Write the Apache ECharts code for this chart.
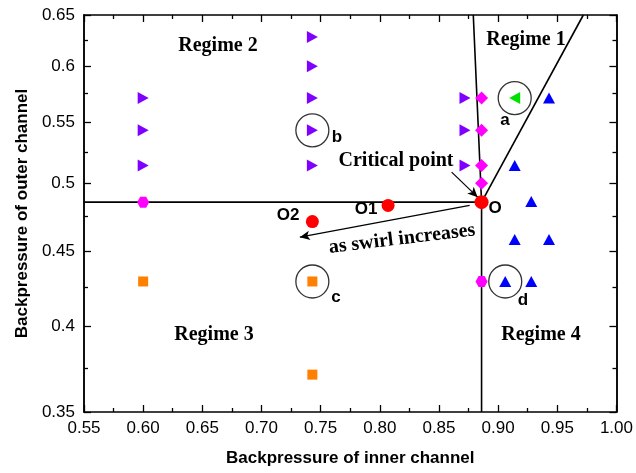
<!DOCTYPE html>
<html>
<head>
<meta charset="utf-8">
<script src="https://cdn.jsdelivr.net/npm/echarts@6/dist/echarts.min.js"></script>
<style>
html, body { margin: 0; padding: 0; background: #fff; }
#chart { width: 636px; height: 473px; }
</style>
</head>
<body>
<div id="chart"></div>
<script>
// [inner backpressure, outer backpressure]
var purpleTri = [[0.60, 0.571], [0.60, 0.543], [0.60, 0.514],
  [0.743, 0.628], [0.743, 0.600], [0.743, 0.571], [0.743, 0.543], [0.743, 0.514],
  [0.872, 0.571], [0.872, 0.543], [0.872, 0.514]];
var magentaDiamond = [[0.886, 0.571], [0.886, 0.543], [0.886, 0.514], [0.886, 0.500]];
var magentaHex = [[0.60, 0.4855], [0.886, 0.429]];
var greenTri = [[0.914, 0.571]];
var blueTri = [[0.943, 0.571], [0.914, 0.514], [0.928, 0.486], [0.914, 0.458],
  [0.943, 0.458], [0.906, 0.429], [0.928, 0.429]];
var orangeSq = [[0.60, 0.429], [0.743, 0.429], [0.743, 0.371]];
var redDots = [[0.807, 0.483], [0.743, 0.471]]; // O1, O2
var pointO = [[0.886, 0.4855]];
var circled = [[0.914, 0.571], [0.743, 0.543], [0.743, 0.429], [0.906, 0.429]]; // a b c d
var lineH = [[0.55, 0.4855], [0.886, 0.4855]];
var lineV = [[0.886, 0.35], [0.886, 0.4855], [0.879, 0.65]];
var lineD = [[0.886, 0.4855], [0.972, 0.65]];
var arrowCritical = [[0.8607, 0.5088], [0.8827, 0.4893]];
var arrowSwirl = [[0.8759, 0.483], [0.7324, 0.4597]];
var yMajor = [0.35, 0.4, 0.45, 0.5, 0.55, 0.6, 0.65];
var yMinor = [0.375, 0.425, 0.475, 0.525, 0.575, 0.625];

// outer channel axis is logarithmic
function lg(p) { return [p[0], Math.log(p[1])]; }
function pts(arr) { return arr.map(lg); }

var black = "#000";
var chart = echarts.init(document.getElementById("chart"));

function xAx(pos, label) {
  return {
    type: "value", position: pos, min: 0.55, max: 1.0, interval: 0.05,
    axisLine: { show: true, onZero: false, lineStyle: { color: black, width: 1.5 } },
    axisTick: { inside: true, length: 7, lineStyle: { color: black, width: 1.3 } },
    minorTick: { show: true, splitNumber: 2, length: 4, lineStyle: { color: black, width: 1.3 } },
    splitLine: { show: false }, minorSplitLine: { show: false },
    axisLabel: {
      show: label, color: black, fontSize: 17, fontFamily: "Liberation Sans", margin: 8,
      formatter: function (v) { return v.toFixed(2); }
    },
    name: label ? "Backpressure of inner channel" : "",
    nameLocation: "middle", nameGap: 38,
    nameTextStyle: { color: black, fontSize: 17, fontWeight: "bold", fontFamily: "Liberation Sans" }
  };
}
function yAx(pos, vals, len, label) {
  var lv = vals.map(Math.log);
  return {
    type: "value", position: pos, min: Math.log(0.35), max: Math.log(0.65),
    axisLine: { show: true, onZero: false, lineStyle: { color: black, width: 1.5 } },
    axisTick: { inside: true, length: len, customValues: lv, lineStyle: { color: black, width: 1.3 } },
    splitLine: { show: false },
    axisLabel: {
      show: label, customValues: lv, color: black, fontSize: 17, fontFamily: "Liberation Sans", margin: 9,
      formatter: function (v) { return String(parseFloat(Math.exp(v).toFixed(2))); }
    },
    name: label ? "Backpressure of outer channel" : "",
    nameLocation: "middle", nameGap: 52, nameRotate: 90,
    nameTextStyle: { color: black, fontSize: 17, fontWeight: "bold", fontFamily: "Liberation Sans" }
  };
}

function scatter(data, symbol, size, color, extra) {
  var s = {
    type: "scatter", data: pts(data), symbol: symbol, symbolSize: size,
    itemStyle: { color: color, opacity: 1 }, z: 5, silent: true
  };
  return Object.assign(s, extra || {});
}
function boundary(data) {
  return {
    type: "line", data: pts(data), symbol: "none", z: 3, silent: true,
    lineStyle: { color: black, width: 1.6 }
  };
}
function arrow(seg) {
  return {
    type: "line", data: [], z: 4, silent: true,
    markLine: {
      silent: true, symbol: ["none", "arrow"], symbolSize: [7, 10],
      label: { show: false },
      lineStyle: { color: black, width: 1.2, type: "solid" },
      data: [[{ coord: lg(seg[0]) }, { coord: lg(seg[1]) }]]
    }
  };
}

var serif = "Liberation Serif";
function txt(x, y, s, opt) {
  opt = opt || {};
  return {
    type: "text", x: x, y: y, rotation: opt.rot || 0, z: 10,
    style: {
      text: s, x: 0, y: 0, align: "center", verticalAlign: "middle",
      fill: black, font: opt.font || ("bold 20px '" + serif + "'")
    }
  };
}
var sans = "bold 17px 'Liberation Sans'";

var option = {
  animation: false,
  grid: { left: 84, right: 19, top: 15, bottom: 61 },
  xAxis: [xAx("bottom", true), xAx("top", false)],
  yAxis: [
    yAx("left", yMajor, 7, true), yAx("left", yMinor, 4, false),
    yAx("right", yMajor, 7, false), yAx("right", yMinor, 4, false)
  ],
  series: [
    boundary(lineH), boundary(lineV), boundary(lineD),
    arrow(arrowCritical), arrow(arrowSwirl),
    scatter(circled, "circle", 33, "rgba(0,0,0,0)", { itemStyle: { color: "rgba(0,0,0,0)", borderColor: black, borderWidth: 1.3 }, z: 4 }),
    scatter(purpleTri, "path://M0,0 L10,5 L0,10 Z", [11, 12], "#8000ff"),
    scatter(magentaDiamond, "diamond", 13, "#ff00ff"),
    scatter(magentaHex, "path://M-1,0 L-0.5,-0.866 L0.5,-0.866 L1,0 L0.5,0.866 L-0.5,0.866 Z", [12, 11], "#ff00ff"),
    scatter(greenTri, "path://M10,0 L0,5 L10,10 Z", [11, 12], "#00e000"),
    scatter(blueTri, "triangle", [12, 11], "#0000ff"),
    scatter(orangeSq, "rect", 10, "#ff8000"),
    scatter(redDots, "circle", 13, "#ff0000"),
    scatter(pointO, "circle", 14, "#ff0000", { z: 6 })
  ],
  graphic: [
    txt(526, 40, "Regime 1"),
    txt(218, 46, "Regime 2"),
    txt(214, 335, "Regime 3"),
    txt(541, 335, "Regime 4"),
    txt(396, 161, "Critical point"),
    txt(402, 239, "as swirl increases", { rot: 0.12 }),
    txt(495, 208, "O", { font: sans }),
    txt(366, 209, "O1", { font: sans }),
    txt(288, 215, "O2", { font: sans }),
    txt(505, 120, "a", { font: sans }),
    txt(337, 137, "b", { font: sans }),
    txt(336, 297, "c", { font: sans }),
    txt(523, 300, "d", { font: sans })
  ]
};
chart.setOption(option);
</script>
</body>
</html>
